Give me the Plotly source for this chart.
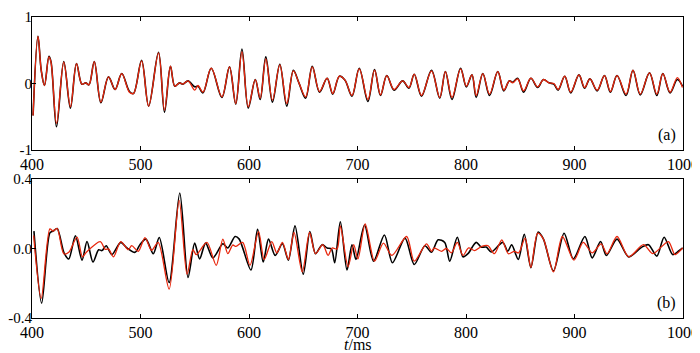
import plotly.graph_objects as go

# ---- panel (a) ----
ta = [401, 405.5, 408.5, 411.5, 415.6, 417.5, 422.6, 429.3, 435.4, 441, 446, 449.5, 452.5, 457.4,
      463.5, 470.5, 476.6, 482.7, 489.8, 493.5, 501, 507.5, 516.6, 522.1, 527.6, 531.6, 536, 539,
      543.8, 550, 553, 557.6, 565.2, 575, 582, 587.8, 593.5, 599.3, 605.8, 610.3, 615.5, 621.6,
      628.4, 634.8, 640.9, 646, 652.2, 658.3, 665, 672, 677.2, 683.3, 688.5, 694.9, 701.6, 709.6,
      715.7, 721.2, 727, 733.7, 741.6, 747.4, 752.3, 759, 768.2, 775.8, 781, 787.1, 795, 800.3,
      805.5, 809.4, 815.5, 821.7, 829.3, 834.8, 840, 843, 847.6, 853.1, 859.8, 866, 871.4, 876.5,
      881, 884.9, 891, 896.5, 904.1, 909.3, 914.2, 920.9, 927.6, 933.1, 939.2, 947.5, 953.9, 960.6,
      969.1, 975.9, 981.4, 988.1, 994.8, 999.5]
a_black = [-0.48, 0.71, 0.2, -0.03, 0.41, 0.33, -0.65, 0.33, -0.37, 0.30, -0.01, 0.01, -0.02, 0.33,
           -0.29, 0.10, -0.09, 0.15, -0.12, -0.15, 0.35, -0.34, 0.47, -0.43, 0.26, -0.04, 0.01, -0.01,
           0.04, -0.05, -0.04, -0.14, 0.23, -0.21, 0.25, -0.31, 0.52, -0.37, 0.06, -0.24, 0.40, -0.28,
           0.29, -0.34, 0.20, 0.01, -0.22, 0.26, -0.13, 0.08, -0.16, 0.11, 0.05, -0.19, 0.23, -0.27,
           0.21, -0.18, 0.12, -0.10, 0.04, -0.07, 0.14, -0.19, 0.20, -0.22, 0.18, -0.24, 0.23, -0.05,
           0.13, -0.21, 0.15, -0.18, 0.18, -0.11, 0.04, 0.02, 0.08, -0.13, 0.08, -0.06, 0.06, 0.01,
           -0.01, -0.10, 0.11, -0.14, 0.13, -0.07, 0.07, -0.11, 0.12, -0.13, 0.12, -0.18, 0.20, -0.17,
           0.16, -0.18, 0.15, -0.14, 0.06, -0.04]
a_red = [-0.48, 0.71, 0.2, -0.03, 0.40, 0.32, -0.60, 0.32, -0.35, 0.30, -0.01, 0.01, -0.02, 0.33,
         -0.28, 0.10, -0.09, 0.15, -0.13, -0.15, 0.34, -0.34, 0.46, -0.40, 0.26, -0.04, 0.01, -0.01,
         0.04, -0.10, -0.03, -0.13, 0.23, -0.20, 0.25, -0.30, 0.48, -0.35, 0.06, -0.22, 0.37, -0.25,
         0.28, -0.30, 0.19, 0.01, -0.20, 0.25, -0.12, 0.08, -0.15, 0.11, 0.05, -0.18, 0.22, -0.24,
         0.20, -0.17, 0.12, -0.09, 0.04, -0.06, 0.14, -0.18, 0.19, -0.21, 0.18, -0.21, 0.22, -0.04,
         0.13, -0.18, 0.15, -0.16, 0.18, -0.10, 0.04, 0.01, 0.07, -0.11, 0.08, -0.05, 0.06, 0.01,
         0.00, -0.09, 0.11, -0.13, 0.13, -0.06, 0.07, -0.10, 0.12, -0.12, 0.12, -0.16, 0.20, -0.16,
         0.16, -0.16, 0.15, -0.13, 0.09, -0.06]

# ---- panel (b) ----
tb_black = [401.8, 408.9, 416.5, 419.5, 423.2, 429.5, 433.9, 440, 446.1, 450.7, 456.2, 461.4, 464.5,
            468.4, 473.6, 481.8, 487.5, 495, 499.5, 505, 511.8, 517.3, 526.4, 536.2, 543.8, 549.9,
            554.5, 560, 566.7, 575.9, 580.5, 587.2, 591, 601.8, 607.9, 613.1, 618, 624.1, 630.8,
            636.3, 642.4, 650, 656.1, 661.3, 667.4, 672, 676, 679, 684.2, 690.3, 694.9, 698.6, 706.5,
            714.8, 724.8, 732.2, 743.8, 752.3, 762.1, 768.2, 774.3, 780.4, 785, 792, 797.2, 801.8,
            809.4, 814, 818.6, 823.2, 833.9, 838.5, 842.1, 848.2, 853.7, 859.8, 866.5, 871.4, 880.6,
            890.4, 898.9, 909.6, 916.3, 924, 929.4, 939.2, 949.9, 962.1, 968.2, 975.9, 982.6, 990.5,
            995.7, 999.7]
b_black = [0.10, -0.315, 0.09, 0.10, 0.115, -0.025, -0.06, 0.073, -0.067, 0.04, -0.078, -0.007, -0.012,
           0.016, -0.035, 0.035, 0.003, -0.022, 0.022, 0.054, -0.03, 0.063, -0.196, 0.319, -0.167, 0.031,
           -0.06, 0.031, -0.054, 0.027, 0.003, 0.069, 0.054, -0.124, 0.11, -0.078, 0.054, -0.04, 0.027,
           -0.067, 0.13, -0.148, 0.097, -0.03, 0.022, 0.003, -0.003, -0.082, 0.154, -0.124, 0.022, -0.063, 0.135,
           -0.073, 0.078, -0.082, 0.06, -0.092, 0.016, -0.022, 0.05, 0.035, -0.073, 0.065, -0.048, -0.03,
           0.035, 0.008, 0.008, -0.02, 0.035, -0.016, 0.022, -0.063, 0.082, -0.11, 0.095, 0.054, -0.13,
           0.088, -0.06, 0.069, -0.054, 0.04, -0.04, 0.054, -0.048, 0.008, 0.022, -0.044, 0.065, -0.035,
           -0.016, 0.003]
tb_red = [401.5, 408.5, 416.5, 419.5, 423.2, 429.3, 433.9, 441.5, 446.5, 450.3, 462.9, 467.5, 470.5,
          475.1, 481.8, 488.7, 491.9, 498, 504.1, 510.2, 516.3, 526.4, 535.6, 542.9, 548.3, 551.4,
          561.2, 569.8, 575.9, 580.5, 585, 588, 594.2, 600.9, 608.8, 614, 621, 625.6, 630.8, 636.3,
          641.5, 649.1, 655.8, 661.3, 668, 672.9, 676.6, 681.2, 684.2, 691.3, 696.5, 700.4, 707.1,
          715.7, 723.9, 731.6, 745.3, 752.3, 763.6, 768.2, 770.6, 777.4, 782, 786.5, 792, 797.2,
          802.4, 808, 814.5, 820.1, 826.2, 833, 839, 844.5, 848.5, 854.5, 859.8, 866, 871.4, 880.6,
          888.8, 899.5, 908, 916.3, 924.6, 930, 939.2, 949.9, 963.6, 972.2, 986.5, 992.6, 999.7]
b_red = [0.075, -0.287, 0.113, 0.10, 0.115, -0.03, -0.022, 0.065, -0.048, -0.02, 0.04, -0.005, -0.002,
         -0.048, 0.04, -0.007, 0.016, -0.016, 0.063, -0.01, 0.035, -0.234, 0.277, -0.148, -0.007, -0.035,
         0.035, -0.097, 0.054, -0.03, 0.02, 0.012, 0.035, -0.097, 0.097, -0.063, 0.04, -0.025, 0.035, -0.063,
         0.092, -0.135, 0.092, -0.03, 0.022, -0.04, 0.003, -0.003, 0.13, -0.105, 0.022, -0.06, 0.141,
         -0.073, 0.031, -0.04, 0.069, -0.073, 0.027, -0.016, 0.003, -0.016, 0.0, -0.025, 0.035, -0.04,
         0.003, -0.012, 0.012, 0.016, -0.03, 0.05, -0.03, -0.016, -0.025, 0.06, -0.11, 0.088, 0.054, -0.135,
         0.069, -0.067, 0.035, -0.025, 0.027, -0.03, 0.069, -0.048, 0.022, -0.03, 0.04, -0.035, 0.003]

x_ticks = [400, 500, 600, 700, 800, 900, 1000]
ya_ticks = [-1, 0, 1]
ya_text = ["-1", "0", "1"]
yb_ticks = [-0.4, 0.0, 0.4]
yb_text = ["-0.4", "0.0", "0.4"]

BLACK = "#000000"
RED = "#e8260c"
FONT = "Liberation Serif"

fig = go.Figure()
fig.add_trace(go.Scatter(x=ta, y=a_black, mode="lines", line=dict(color=BLACK, width=1.6, shape="spline", smoothing=1.0),
                         xaxis="x", yaxis="y", showlegend=False))
fig.add_trace(go.Scatter(x=ta, y=a_red, mode="lines", line=dict(color=RED, width=1.3, shape="spline", smoothing=1.0),
                         xaxis="x", yaxis="y", showlegend=False))
fig.add_trace(go.Scatter(x=tb_black, y=b_black, mode="lines", line=dict(color=BLACK, width=1.6, shape="spline", smoothing=0.8),
                         xaxis="x2", yaxis="y2", showlegend=False))
fig.add_trace(go.Scatter(x=tb_red, y=b_red, mode="lines", line=dict(color=RED, width=1.3, shape="spline", smoothing=0.8),
                         xaxis="x2", yaxis="y2", showlegend=False))

xcommon = dict(range=[400, 1000], tickvals=x_ticks, ticks="inside", ticklen=4, tickcolor="black",
               showline=True, linecolor="black", linewidth=1, mirror="ticks", showgrid=False,
               zeroline=False, automargin=False, tickfont=dict(family=FONT, size=16, color="black"))
ycommon = dict(ticks="inside", ticklen=4, tickcolor="black", showline=True, linecolor="black",
               linewidth=1, mirror=True, showgrid=False, zeroline=False, automargin=False,
               ticklabelstandoff=-4, tickfont=dict(family=FONT, size=15, color="black"))

fig.update_layout(
    width=700, height=353,
    margin=dict(l=24, r=25, t=9, b=43),
    paper_bgcolor="white", plot_bgcolor="white",
    xaxis=dict(domain=[0, 1], anchor="y", **xcommon),
    yaxis=dict(domain=[0.558, 1], anchor="x", range=[-1, 1], tickvals=ya_ticks, ticktext=ya_text, **ycommon),
    xaxis2=dict(domain=[0, 1], anchor="y2", **xcommon),
    yaxis2=dict(domain=[0, 0.4618], anchor="x2", range=[-0.4, 0.4], tickvals=yb_ticks, ticktext=yb_text, **ycommon),
    annotations=[
        dict(text="(a)", xref="x domain", yref="y domain", x=0.993, y=0.03, xanchor="right", yanchor="bottom",
             showarrow=False, font=dict(family=FONT, size=16, color="black")),
        dict(text="(b)", xref="x2 domain", yref="y2 domain", x=0.993, y=0.03, xanchor="right", yanchor="bottom",
             showarrow=False, font=dict(family=FONT, size=16, color="black")),
        dict(text="<i>t</i>/ms", xref="paper", yref="paper", x=0.5, y=-0.0864, xanchor="center", yanchor="middle",
             showarrow=False, font=dict(family=FONT, size=16, color="black")),
    ],
)

fig.write_html("out.html")
